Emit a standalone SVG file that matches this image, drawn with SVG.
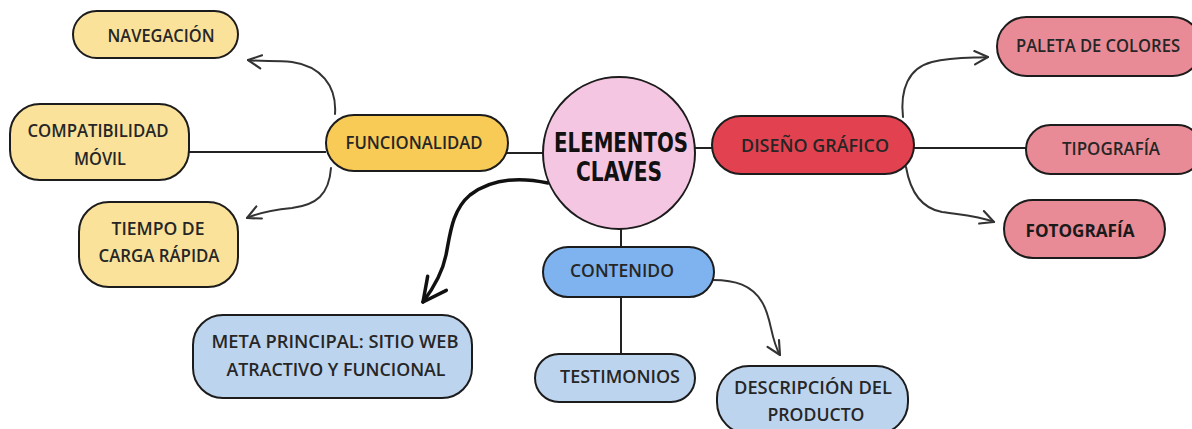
<svg xmlns="http://www.w3.org/2000/svg" width="1192" height="429" viewBox="0 0 1192 429">
<defs>
<style>
.box{stroke:#1c1c1c;stroke-width:2}
.y1{fill:#FAE29B}.y2{fill:#F8CB57}.pk{fill:#F5C6E1}.rd{fill:#E2424F}.rp{fill:#E88B96}.b1{fill:#7EB3F0}.b2{fill:#BDD4EE}
.t{font-family:"Open Sans","Roboto","Liberation Sans",sans-serif;font-size:18px;fill:#262626;text-anchor:middle;font-weight:600}
.tb{font-weight:bold;fill:#1a1a1a}
.title{font-family:"DejaVu Sans","Liberation Sans",sans-serif;font-size:27px;font-weight:bold;fill:#111;text-anchor:middle}
.ln{stroke:#222;stroke-width:2;fill:none}
.cv{stroke:#333;stroke-width:2;fill:none;stroke-linecap:round;marker-end:url(#ah)}
.cvt{stroke:#111;stroke-width:3.5;fill:none;stroke-linecap:round;marker-end:url(#ahb)}
</style>
<marker id="ah" viewBox="0 0 12 12" refX="11" refY="6" markerWidth="16" markerHeight="16" markerUnits="userSpaceOnUse" orient="auto">
<path d="M1,1 L11,6 L1,11" fill="none" stroke="#333" stroke-width="1.6" stroke-linecap="round" stroke-linejoin="round"/>
</marker>
<marker id="ahb" viewBox="0 0 12 12" refX="11" refY="6" markerWidth="28" markerHeight="28" markerUnits="userSpaceOnUse" orient="auto">
<path d="M1,1 L11,6 L1,11" fill="none" stroke="#111" stroke-width="1.5" stroke-linecap="round" stroke-linejoin="round"/>
</marker>
</defs>
<rect width="1192" height="429" fill="#fff"/>
<g id="connectors">
<line class="ln" x1="189" y1="152" x2="326" y2="152"/>
<line class="ln" x1="507" y1="153" x2="544" y2="153"/>
<line class="ln" x1="695" y1="148" x2="712" y2="148"/>
<line class="ln" x1="913" y1="148" x2="1026" y2="148"/>
<line class="ln" x1="621" y1="228" x2="621" y2="247"/>
<line class="ln" x1="621" y1="296" x2="621" y2="354"/>
<path class="cv" d="M335,114 C337,85 320,66 292,62 C274,60 262,62 248,60"/>
<path class="cv" d="M331,168 C329,195 316,205 292,208 C272,210 258,213 247,218"/>
<path class="cv" d="M903,117 C900,90 908,68 932,62 C952,57 970,58 988,57"/>
<path class="cv" d="M906,167 C910,190 920,208 942,212 C962,215 978,216 994,222"/>
<path class="cv" d="M713,280 C735,280 752,285 762,302 C772,318 770,338 780,355"/>
<path class="cvt" d="M548,183 C525,178 495,176 470,195 C452,210 450,235 446,255 C442,275 432,290 423,302"/>
</g>
<g id="navegacion">
<rect class="box y1" x="73" y="11" width="165" height="47" rx="23.5"/>
<text class="t" x="161" y="42" textLength="107" lengthAdjust="spacingAndGlyphs">NAVEGACIÓN</text>
</g>
<g id="compatibilidad">
<rect class="box y1" x="10" y="104" width="179" height="76" rx="30"/>
<text class="t" x="98" y="137" textLength="141" lengthAdjust="spacingAndGlyphs">COMPATIBILIDAD</text>
<text class="t" x="100" y="165" textLength="52" lengthAdjust="spacingAndGlyphs">MÓVIL</text>
</g>
<g id="tiempo">
<rect class="box y1" x="79" y="202" width="159" height="85" rx="30"/>
<text class="t" x="158" y="235" textLength="93" lengthAdjust="spacingAndGlyphs">TIEMPO DE</text>
<text class="t" x="159" y="262" textLength="121" lengthAdjust="spacingAndGlyphs">CARGA RÁPIDA</text>
</g>
<g id="funcionalidad">
<rect class="box y2" x="326" y="115" width="182" height="56" rx="28"/>
<text class="t" x="414" y="149" textLength="137" lengthAdjust="spacingAndGlyphs">FUNCIONALIDAD</text>
</g>
<g id="elementos-claves">
<circle class="box pk" cx="619" cy="153" r="76"/>
<text class="title" x="621" y="152" textLength="134" lengthAdjust="spacingAndGlyphs">ELEMENTOS</text>
<text class="title" x="619" y="181" textLength="86" lengthAdjust="spacingAndGlyphs">CLAVES</text>
</g>
<g id="diseno-grafico">
<rect class="box rd" x="712" y="116" width="202" height="58" rx="29"/>
<text class="t" x="815" y="152" textLength="148" lengthAdjust="spacingAndGlyphs">DISEÑO GRÁFICO</text>
</g>
<g id="paleta">
<rect class="box rp" x="997" y="17" width="205" height="59" rx="29.5"/>
<text class="t" x="1098" y="52" textLength="164" lengthAdjust="spacingAndGlyphs">PALETA DE COLORES</text>
</g>
<g id="tipografia">
<rect class="box rp" x="1026" y="125" width="176" height="49" rx="24.5"/>
<text class="t" x="1111" y="155" textLength="98" lengthAdjust="spacingAndGlyphs">TIPOGRAFÍA</text>
</g>
<g id="fotografia">
<rect class="box rp" x="1004" y="200" width="161" height="58" rx="29"/>
<text class="t tb" x="1080" y="237" textLength="109" lengthAdjust="spacingAndGlyphs">FOTOGRAFÍA</text>
</g>
<g id="contenido">
<rect class="box b1" x="543" y="247" width="171" height="50" rx="25"/>
<text class="t" x="622" y="277" textLength="104" lengthAdjust="spacingAndGlyphs">CONTENIDO</text>
</g>
<g id="meta">
<rect class="box b2" x="193" y="315" width="279" height="83" rx="30"/>
<text class="t" x="335" y="348" textLength="247" lengthAdjust="spacingAndGlyphs">META PRINCIPAL: SITIO WEB</text>
<text class="t" x="336" y="376" textLength="219" lengthAdjust="spacingAndGlyphs">ATRACTIVO Y FUNCIONAL</text>
</g>
<g id="testimonios">
<rect class="box b2" x="535" y="354" width="160" height="48" rx="24"/>
<text class="t" x="620" y="383" textLength="120" lengthAdjust="spacingAndGlyphs">TESTIMONIOS</text>
</g>
<g id="descripcion">
<rect class="box b2" x="717" y="366" width="191" height="68" rx="32"/>
<text class="t" x="813" y="394" textLength="158" lengthAdjust="spacingAndGlyphs">DESCRIPCIÓN DEL</text>
<text class="t" x="816" y="421" textLength="97" lengthAdjust="spacingAndGlyphs">PRODUCTO</text>
</g>
</svg>
